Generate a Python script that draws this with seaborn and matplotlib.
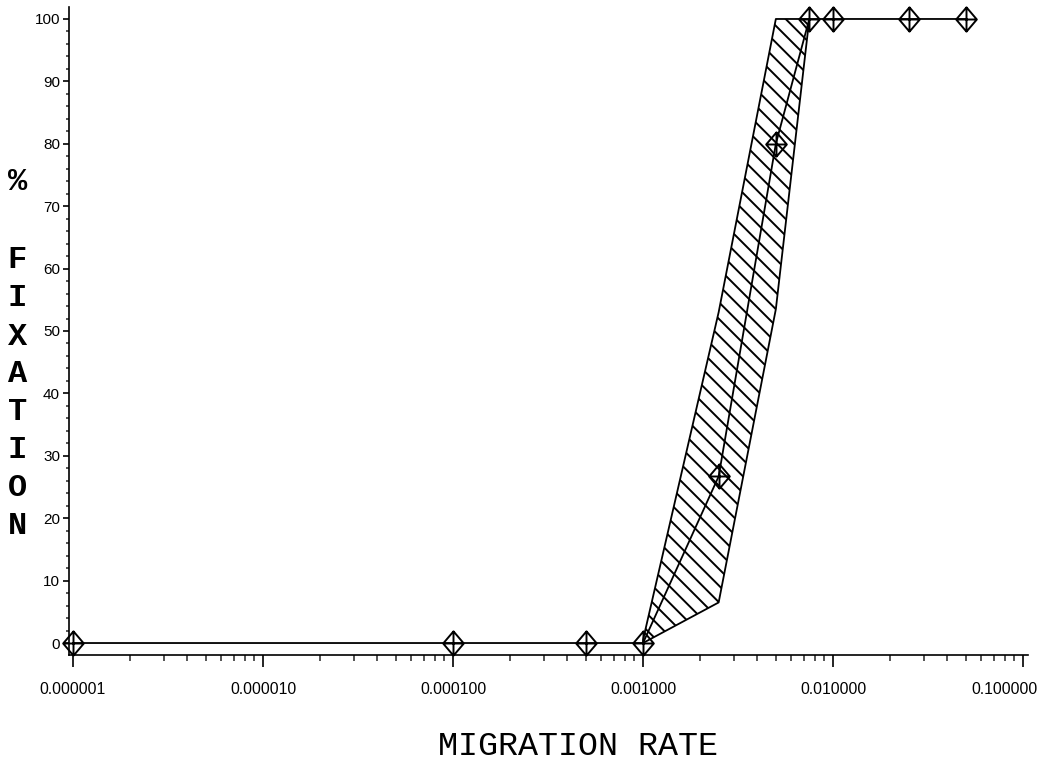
import matplotlib
matplotlib.use("Agg")
import matplotlib.pyplot as plt
from matplotlib.path import Path
from matplotlib.ticker import FixedLocator, LogLocator, NullFormatter, MultipleLocator
from matplotlib.transforms import ScaledTranslation
import numpy as np
import pandas as pd
import seaborn as sns

# Percent of replicates reaching fixation at each migration rate
migration_rate = [1e-6, 1e-4, 5e-4, 1e-3, 2.5e-3, 5e-3, 7.5e-3, 1e-2, 2.5e-2, 5e-2]
pct_fixation = [0, 0, 0, 0, 26.7, 80, 100, 100, 100, 100]

# Spread of the replicate outcomes around the mean curve
band_rate = [1e-3, 2.5e-3, 5e-3, 7.5e-3]
band_upper = [0.5, 53, 100, 100]
band_lower = [0, 6.5, 53.5, 100]

x_ticks = [1e-6, 1e-5, 1e-4, 1e-3, 1e-2, 1e-1]
x_tick_labels = ["0.000001", "0.000010", "0.000100", "0.001000", "0.010000", "0.100000"]
y_ticks = list(range(0, 101, 10))

x_title = "MIGRATION RATE"
y_title = ["%", "F", "I", "X", "A", "T", "I", "O", "N"]

sns.set_theme(style="ticks")
plt.rcParams["font.family"] = ["Liberation Sans", "DejaVu Sans"]
plt.rcParams["hatch.linewidth"] = 1.4
plt.rcParams["axes.linewidth"] = 1.2

DPI = 100
W, H = 1047, 760
fig = plt.figure(figsize=(W / DPI, H / DPI), dpi=DPI)
fig.patch.set_facecolor("white")

# axes box in pixel terms
left_px, right_px, top_px, bottom_px = 69, 1028, 7, 655
ax = fig.add_axes([left_px / W, 1 - bottom_px / H,
                   (right_px - left_px) / W, (bottom_px - top_px) / H])
ax.set_facecolor("white")

# diamond with an inner cross
verts = [(0, 1), (0.85, 0), (0, -1), (-0.85, 0), (0, 1),
         (0, 1), (0, -1), (-0.85, 0), (0.85, 0)]
codes = [Path.MOVETO, Path.LINETO, Path.LINETO, Path.LINETO, Path.CLOSEPOLY,
         Path.MOVETO, Path.LINETO, Path.MOVETO, Path.LINETO]
diamond_cross = Path(verts, codes)

ax.fill_between(band_rate, band_lower, band_upper, facecolor="none",
                edgecolor="black", hatch="\\\\", linewidth=1.3, zorder=1)

df = pd.DataFrame({"rate": migration_rate, "pct": pct_fixation})
sns.lineplot(data=df, x="rate", y="pct", ax=ax, color="black", linewidth=1.3,
             marker=diamond_cross, markersize=17.5, markerfacecolor="none",
             markeredgecolor="black", markeredgewidth=1.4, zorder=3,
             clip_on=False)

ax.set_xscale("log")
ax.set_xlim(10 ** -6.021, 10 ** -0.974)
ax.set_ylim(-1.92, 101.92)

ax.xaxis.set_major_locator(FixedLocator(x_ticks))
ax.set_xticklabels(x_tick_labels)
ax.xaxis.set_minor_locator(LogLocator(base=10, subs=np.arange(2, 10)))
ax.xaxis.set_minor_formatter(NullFormatter())
ax.yaxis.set_major_locator(FixedLocator(y_ticks))
ax.yaxis.set_minor_locator(MultipleLocator(2))

ax.tick_params(axis="x", which="major", direction="out", length=8.6, width=1.2,
               pad=11.0, labelsize=11.3, colors="black")
ax.tick_params(axis="x", which="minor", direction="out", length=4.3, width=1.1)
ax.tick_params(axis="y", which="major", direction="out", length=4.3, width=1.2,
               pad=2.2, labelsize=11.0, colors="black")
ax.tick_params(axis="y", which="minor", direction="out", length=2.2, width=1.1)

# keep the rightmost tick label inside the figure
last_label = ax.get_xticklabels()[-1]
last_label.set_horizontalalignment("right")
last_label.set_transform(last_label.get_transform() +
                         ScaledTranslation(15 / DPI, 0, fig.dpi_scale_trans))

for side in ("top", "right"):
    ax.spines[side].set_visible(False)
for side in ("left", "bottom"):
    ax.spines[side].set_color("black")

ax.set_xlabel("")
ax.set_ylabel("")

# stacked vertical title on the left
letter_centers = [180, 258, 296, 334, 372, 410, 448, 486, 524]
for ch, yc in zip(y_title, letter_centers):
    fig.text(17.5 / W, 1 - (yc + 10.5) / H, ch, ha="center", va="baseline",
             fontsize=23, fontweight="bold",
             family=["Liberation Mono", "DejaVu Sans Mono"], color="black")

fig.text(578 / W, 1 - 755 / H, x_title, ha="center", va="baseline",
         fontsize=24, family=["Liberation Mono", "DejaVu Sans Mono"], color="black")

fig.savefig("out.png", dpi=DPI, facecolor="white")
